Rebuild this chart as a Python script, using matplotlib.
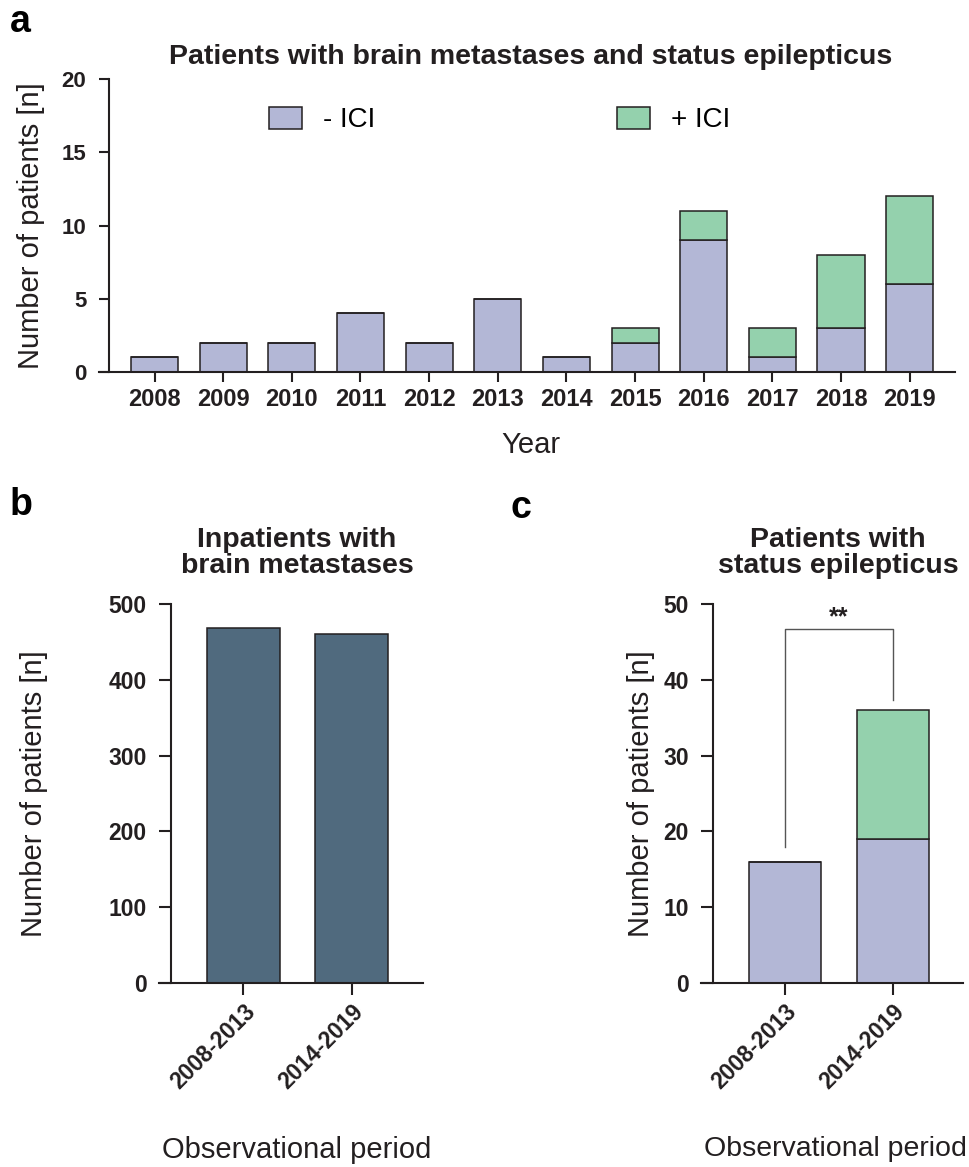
import numpy as np
import matplotlib
matplotlib.use('Agg')
import matplotlib.pyplot as plt
from matplotlib.patches import Patch

plt.rcParams['font.family'] = ['Liberation Sans', 'DejaVu Sans']

# ---------- data ----------
years = ['2008', '2009', '2010', '2011', '2012', '2013',
         '2014', '2015', '2016', '2017', '2018', '2019']
no_ici = [1, 2, 2, 4, 2, 5, 1, 2, 9, 1, 3, 6]
with_ici = [0, 0, 0, 0, 0, 0, 0, 1, 2, 2, 5, 6]

periods = ['2008-2013', '2014-2019']
inpatients = [468, 461]
se_no_ici = [16, 19]
se_with_ici = [0, 17]

c_lav = '#b3b7d6'
c_grn = '#94d1ad'
c_blue = '#506a7e'
ink = '#231f20'

W, H = 969, 1167
fig = plt.figure(figsize=(W / 100, H / 100), dpi=100)


def ax_at(l, t, r, b):
    return fig.add_axes([l / W, 1 - b / H, (r - l) / W, (b - t) / H])


def style(ax, ext, ticklen, ysize, xsize):
    for s in ['top', 'right']:
        ax.spines[s].set_visible(False)
    for s in ['left', 'bottom']:
        ax.spines[s].set_linewidth(1.5)
        ax.spines[s].set_color(ink)
    x0, x1 = ax.get_xlim()
    ax.spines['bottom'].set_bounds(x0 - ext, x1)
    ax.tick_params(width=1.5, length=ticklen, color=ink, labelcolor=ink)
    ax.tick_params(axis='y', labelsize=ysize, pad=9)
    ax.tick_params(axis='x', labelsize=xsize, pad=4)
    for lab in ax.get_xticklabels() + ax.get_yticklabels():
        lab.set_fontweight('bold')


# ---------- panel a ----------
ax = ax_at(109, 79, 955, 372)
x = np.arange(len(years))
ax.bar(x, no_ici, width=0.686, color=c_lav, edgecolor=ink, linewidth=1.1)
ax.bar(x, with_ici, width=0.686, bottom=no_ici, color=c_grn, edgecolor=ink, linewidth=1.1)
ax.set_xlim(-0.663, 11.66)
ax.set_ylim(0, 20)
ax.set_yticks([0, 5, 10, 15, 20])
ax.set_xticks(x)
ax.set_xticklabels(years)
style(ax, 10 / 68.6, 7.2, 16, 17)
ax.set_ylabel('Number of patients [n]', fontsize=21, color=ink)
ax.yaxis.set_label_coords(-0.076, 0.5)
ax.set_xlabel('Year', fontsize=21, color=ink)
ax.xaxis.set_label_coords(0.499, -0.2)
fig.text(531 / W, 1 - 57 / H, 'Patients with brain metastases and status epilepticus',
         fontsize=20.5, fontweight='bold', color=ink, ha='center', va='center')
handles = [Patch(facecolor=c_lav, edgecolor=ink, linewidth=1.1, label='- ICI'),
           Patch(facecolor=c_grn, edgecolor=ink, linewidth=1.1, label='+ ICI')]
ax.legend(handles=handles, ncol=2, frameon=False, fontsize=20,
          loc='center left', bbox_to_anchor=((268 - 109) / 846 - 0.012, (372 - 120) / 293),
          handlelength=1.19, handleheight=0.86, columnspacing=8.7, handletextpad=0.75,
          borderaxespad=0)
fig.text(10 / W, 1 - 22 / H, 'a', fontsize=27, fontweight='bold', va='center', color='black')

# ---------- panel b ----------
axb = ax_at(171, 604, 423, 983)
xp = np.arange(len(periods))
axb.bar(xp, inpatients, width=0.675, color=c_blue, edgecolor=ink, linewidth=1.1)
axb.set_xlim(-0.67, 1.66)
axb.set_ylim(0, 500)
axb.set_yticks(range(0, 501, 100))
axb.set_xticks(xp)
axb.set_xticklabels(periods, rotation=45, ha='right', rotation_mode='anchor')
style(axb, 12 / 108, 8.5, 16.5, 16.5)
axb.set_ylabel('Number of patients [n]', fontsize=21, color=ink)
axb.yaxis.set_label_coords(-0.49, 0.5)
axb.set_xlabel('Observational period', fontsize=21, color=ink)
axb.xaxis.set_label_coords(0.5, -0.405)
fig.text(297 / W, 1 - 553 / H, 'Inpatients with\nbrain metastases', fontsize=20.5,
         fontweight='bold', color=ink, ha='center', va='center', linespacing=1.0)
fig.text(10 / W, 1 - 505 / H, 'b', fontsize=27, fontweight='bold', va='center', color='black')

# ---------- panel c ----------
axc = ax_at(713, 604, 963, 983)
axc.bar(xp, se_no_ici, width=0.67, color=c_lav, edgecolor=ink, linewidth=1.1)
axc.bar(xp, se_with_ici, width=0.67, bottom=se_no_ici, color=c_grn, edgecolor=ink, linewidth=1.1)
axc.set_xlim(-0.67, 1.65)
axc.set_ylim(0, 50)
axc.set_yticks(range(0, 51, 10))
axc.set_xticks(xp)
axc.set_xticklabels(periods, rotation=45, ha='right', rotation_mode='anchor')
style(axc, 12 / 108, 8.5, 16.5, 16.5)
axc.set_ylabel('Number of patients [n]', fontsize=21, color=ink)
axc.yaxis.set_label_coords(-0.232, 0.5)
axc.set_xlabel('Observational period', fontsize=20.5, color=ink)
axc.xaxis.set_label_coords(0.49, -0.405)
fig.text(838 / W, 1 - 553 / H, 'Patients with\nstatus epilepticus', fontsize=20.5,
         fontweight='bold', color=ink, ha='center', va='center', linespacing=1.0)
# significance bracket
axc.plot([0, 0, 1, 1], [17.9, 46.7, 46.7, 37.4], color='#555555', linewidth=1.0)
axc.text(0.5, 48.2, '**', ha='center', va='center', fontsize=18, fontweight='bold', color=ink)
fig.text(510 / W, 1 - 508 / H, 'c', fontsize=27, fontweight='bold', va='center', color='black')

fig.savefig('out.png', dpi=100)
